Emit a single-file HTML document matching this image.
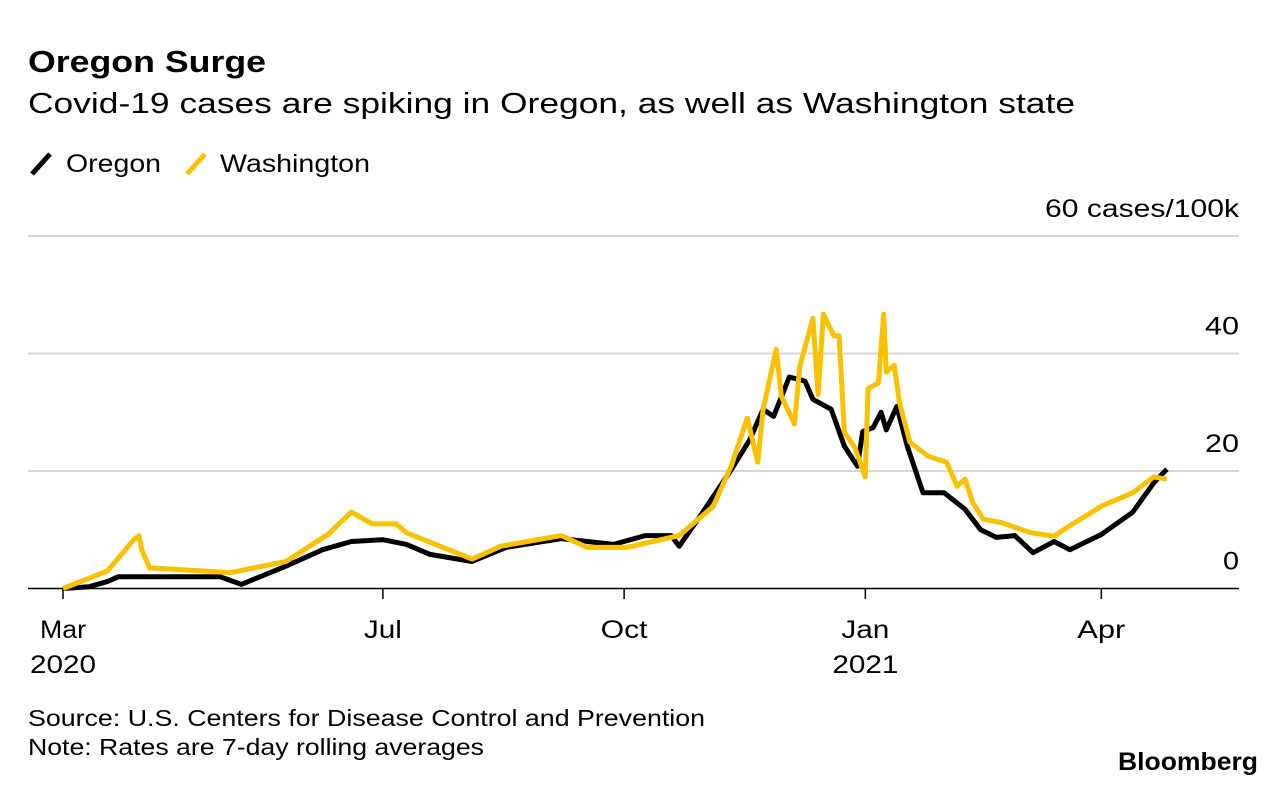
<!DOCTYPE html>
<html><head><meta charset="utf-8"><style>
body{margin:0;background:#fff;}
svg{display:block;font-family:"Liberation Sans",Arial,sans-serif;}
</style></head><body>
<svg id="chart" width="1286" height="786" viewBox="0 0 1286 786">
<text x="28" y="72" font-size="31" font-weight="bold" fill="#000" textLength="238" lengthAdjust="spacingAndGlyphs">Oregon Surge</text>
<text x="28" y="113" font-size="29" fill="#000" textLength="1047" lengthAdjust="spacingAndGlyphs">Covid-19 cases are spiking in Oregon, as well as Washington state</text>
<g>
<line x1="32" y1="174" x2="50" y2="154" stroke="#000" stroke-width="5"/>
<text x="66" y="172" font-size="25" textLength="95" lengthAdjust="spacingAndGlyphs">Oregon</text>
<line x1="187" y1="174" x2="205" y2="154" stroke="#fbc000" stroke-width="5"/>
<text x="220" y="172" font-size="25" textLength="150" lengthAdjust="spacingAndGlyphs">Washington</text>
</g>
<g id="grid"></g>
<g id="xaxis"></g>
<g id="series"></g>
<text x="28" y="726" font-size="23" textLength="677" lengthAdjust="spacingAndGlyphs">Source: U.S. Centers for Disease Control and Prevention</text>
<text x="28" y="755" font-size="23" textLength="456" lengthAdjust="spacingAndGlyphs">Note: Rates are 7-day rolling averages</text>
<text x="1118" y="770" font-size="25" font-weight="bold" textLength="140" lengthAdjust="spacingAndGlyphs">Bloomberg</text>
</svg>
<script>
const yTicks = [0, 20, 40, 60];
const yTickLabels = ["0", "20", "40", "60 cases/100k"];
const xTickDays = [0, 122, 214, 306, 396];
const xTickLabels = ["Mar", "Jul", "Oct", "Jan", "Apr"];
const xYearLabels = ["2020", "", "", "2021", ""];
const orDays = [0,10,17,21,60,68,85,99,110,122,131,140,156,169,190,210,222,232,235,243,255,262,267,271,277,283,286,293,298,303,305,309,312,314,318,322,328,336,344,350,356,363,370,378,384,396,408,416,421];
const orVals = [0,0.3,1.2,2,2,0.7,3.8,6.6,8,8.3,7.5,5.8,4.6,7,8.5,7.5,9,9,7.2,12.3,20.3,25.4,30.5,29.3,36,35.3,32.2,30.5,24.2,20.8,26.7,27.4,30,27,31,24.2,16.3,16.3,13.5,10,8.7,9,6.1,8,6.6,9.2,13,18,20.3];
const waDays = [0,17,27,29,30,33,64,85,101,110,118,127,131,156,167,190,200,215,225,235,248,255,261,265,267,272,274,279,281,286,288,290,294,296,298,302,306,307,311,313,314,317,319,323,330,337,341,344,347,351,358,369,378,383,396,408,416,421];
const waVals = [0,3,8.3,9,6.6,3.5,2.7,4.6,9.2,13,11,11,9.5,5,7.2,9,7,7,8,9,14,21,29,21.5,30.5,40.7,32.7,28,37.8,46,33,46.7,43,43,26.6,24,19,34,35,46.7,36.8,38,31.7,24.9,22.5,21.5,17.4,18.6,14.6,11.8,11.2,9.5,8.9,10.4,14,16.3,19,18.6];

const NS = "http://www.w3.org/2000/svg";
const x = d => 63 + d * 2.622;
const y = v => 588.5 - v * 5.875;
const yLabelW = {"0": 16, "20": 34, "40": 34, "60 cases/100k": 194};
const monthW = {"Mar": 46, "Jul": 38, "Oct": 47, "Jan": 48, "Apr": 48};
const grid = document.getElementById("grid");
yTicks.forEach((t, i) => {
  const ln = document.createElementNS(NS, "line");
  ln.setAttribute("x1", 28); ln.setAttribute("x2", 1239);
  ln.setAttribute("y1", y(t)); ln.setAttribute("y2", y(t));
  ln.setAttribute("stroke", t === 0 ? "#000" : "#d6d6d6");
  ln.setAttribute("stroke-width", t === 0 ? 1.5 : 2);
  
  
  grid.appendChild(ln);
  const tx = document.createElementNS(NS, "text");
  const w = yLabelW[yTickLabels[i]];
  tx.setAttribute("x", 1239 - w); tx.setAttribute("y", y(t) - 19);
  tx.setAttribute("font-size", "25");
  tx.setAttribute("textLength", w); tx.setAttribute("lengthAdjust", "spacingAndGlyphs");
  tx.textContent = yTickLabels[i];
  
  
  grid.appendChild(tx);
});
const xa = document.getElementById("xaxis");
xTickDays.forEach((d, i) => {
  const ln = document.createElementNS(NS, "line");
  ln.setAttribute("x1", x(d)); ln.setAttribute("x2", x(d));
  ln.setAttribute("y1", 589); ln.setAttribute("y2", 599);
  ln.setAttribute("stroke", "#000"); ln.setAttribute("stroke-width", 1.5);
  
  
  xa.appendChild(ln);
  const tx = document.createElementNS(NS, "text");
  const w = monthW[xTickLabels[i]];
  tx.setAttribute("x", x(d) - w / 2); tx.setAttribute("y", 638);
  tx.setAttribute("font-size", "25");
  tx.setAttribute("textLength", w); tx.setAttribute("lengthAdjust", "spacingAndGlyphs");
  tx.textContent = xTickLabels[i];
  
  
  xa.appendChild(tx);
  if (xYearLabels[i]) {
    const ty = document.createElementNS(NS, "text");
    ty.setAttribute("x", x(d) - 33); ty.setAttribute("y", 673);
    ty.setAttribute("font-size", "25");
    ty.setAttribute("textLength", 66); ty.setAttribute("lengthAdjust", "spacingAndGlyphs");
    ty.textContent = xYearLabels[i];
    
    
    xa.appendChild(ty);
  }
});
const ser = document.getElementById("series");
function drawLine(days, vals, color, name) {
  const p = document.createElementNS(NS, "path");
  p.setAttribute("d", days.map((d, i) => (i ? "L" : "M") + x(d).toFixed(1) + "," + y(vals[i]).toFixed(1)).join(""));
  p.setAttribute("fill", "none"); p.setAttribute("stroke", color);
  p.setAttribute("stroke-width", 5); p.setAttribute("stroke-linejoin", "round");
  
  
  ser.appendChild(p);
}
drawLine(orDays, orVals, "#000", "oregon-line");
drawLine(waDays, waVals, "#fbc000", "washington-line");
</script>
</body></html>
